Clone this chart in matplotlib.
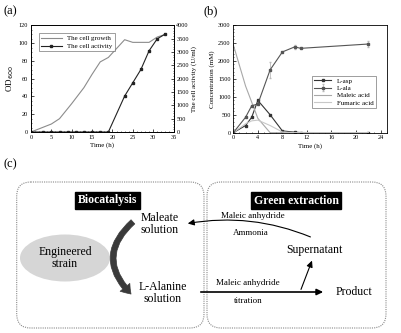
import numpy as np
import matplotlib.pyplot as plt
from matplotlib.patches import FancyBboxPatch, Ellipse, FancyArrowPatch

plt.rcParams['font.family'] = ['Liberation Serif', 'DejaVu Serif']

# (a) cell growth and activity
t_growth = [0, 5, 7, 10, 13, 15, 17, 19, 23, 25, 27, 29, 31, 33]
od600 = [0, 9, 15, 32, 50, 65, 79, 84, 104, 101, 101, 101, 107, 110]
t_act = [0, 3, 5, 7, 9, 11, 13, 15, 17, 19, 23, 25, 27, 29, 31, 33]
activity = [0, 0, 0, 0, 0, 0, 0, 0, 0, 0, 1350, 1850, 2350, 3050, 3500, 3680]

# (b) concentrations
t_b = [0, 2, 3, 4, 6, 8, 10, 11, 22]
l_asp = [0, 200, 430, 900, 500, 50, 15, 5, 0]
l_ala = [0, 430, 750, 800, 1750, 2250, 2390, 2350, 2470]
l_ala_err = [0, 0, 0, 0, 230, 0, 60, 0, 80]
maleic = [2450, 1300, 850, 400, 0, 0, 0, 0, 0]
fumaric = [0, 250, 330, 350, 200, 20, 0, 0, 0]

W, H = 401, 333
fig = plt.figure(figsize=(W / 100, H / 100), dpi=100)


def px_axes(left, top, right, bottom):
    return fig.add_axes([left / W, 1 - bottom / H, (right - left) / W, (bottom - top) / H])


def style_ticks(ax):
    ax.tick_params(direction='in', labelsize=4.5, length=2, width=0.5, pad=2)
    ax.tick_params(which='minor', direction='in', length=1, width=0.4)
    for s in ax.spines.values():
        s.set_linewidth(0.6)


# ---- panel a ----
ax1 = px_axes(31, 25.5, 173.5, 132)
ax1.plot(t_growth, od600, color='#8c8c8c', lw=0.8, label='The cell growth')
ax1.set_xlim(0, 35)
ax1.set_ylim(0, 120)
ax1.set_xticks(np.arange(0, 36, 5))
ax1.set_yticks(np.arange(0, 121, 20))
ax1.minorticks_on()
ax1.set_xlabel('Time (h)', fontsize=5, labelpad=2)
ax1.set_ylabel('OD$_{600}$', fontsize=6.5, labelpad=2)
style_ticks(ax1)
ax2 = ax1.twinx()
ax2.plot(t_act, activity, color='#222222', lw=0.8, marker='s', ms=1.6, label='The cell activity')
ax2.set_ylim(0, 4000)
ax2.set_yticks(np.arange(0, 4001, 500))
ax2.minorticks_on()
ax2.set_ylabel('The cell activity (U/ml)', fontsize=5, labelpad=2)
style_ticks(ax2)
h1, l1 = ax1.get_legend_handles_labels()
h2, l2 = ax2.get_legend_handles_labels()
leg = ax1.legend(h1 + h2, l1 + l2, loc='upper left', bbox_to_anchor=(0.03, 0.96),
                 fontsize=5, frameon=True, fancybox=False, handlelength=3, borderpad=0.3,
                 labelspacing=0.3)
leg.get_frame().set_linewidth(0.5)
leg.get_frame().set_edgecolor('#555555')

# ---- panel b ----
ax3 = px_axes(233.3, 25, 386.7, 132.7)
p_asp, = ax3.plot(t_b, l_asp, color='#333333', lw=0.8, marker='s', ms=1.6, label='L-asp')
p_ala = ax3.errorbar(t_b, l_ala, yerr=l_ala_err, color='#555555', ecolor='#bbbbbb', elinewidth=0.6,
                     capsize=1, lw=0.8, marker='s', ms=1.6, label='L-ala')
p_mal, = ax3.plot(t_b, maleic, color='#a8a8a8', lw=0.8, label='Maleic acid')
p_fum, = ax3.plot(t_b, fumaric, color='#c8c8c8', lw=0.8, label='Fumaric acid')
ax3.set_xlim(0, 25)
ax3.set_ylim(0, 3000)
ax3.set_xticks(np.arange(0, 25, 4))
ax3.set_yticks(np.arange(0, 3001, 500))
ax3.minorticks_on()
ax3.set_xlabel('Time (h)', fontsize=5, labelpad=2)
ax3.set_ylabel('Concentration (mM)', fontsize=5, labelpad=2)
style_ticks(ax3)
leg = ax3.legend([p_asp, p_ala, p_mal, p_fum], ['L-asp', 'L-ala', 'Maleic acid', 'Fumaric acid'],
                 loc='upper left', bbox_to_anchor=(0.49, 0.56), fontsize=5, frameon=True,
                 fancybox=False, handlelength=2.5, borderpad=0.3, labelspacing=0.2)
leg.get_frame().set_linewidth(0.5)
leg.get_frame().set_edgecolor('#555555')

# ---- panel c (diagram) ----
axc = fig.add_axes([0, 0, 1, 1], zorder=-1)
axc.set_xlim(0, W)
axc.set_ylim(H, 0)
axc.axis('off')

for x0, x1 in [(16.7, 204), (207, 386)]:
    axc.add_patch(FancyBboxPatch((x0, 182), x1 - x0, 146,
                                 boxstyle='round,pad=0,rounding_size=14',
                                 fc='none', ec='#8a8a8a', lw=0.8, ls=(0, (1, 1))))
axc.text(107.5, 200.5, 'Biocatalysis', color='white', fontsize=8.5, fontweight='bold',
         ha='center', va='center',
         bbox=dict(boxstyle='square,pad=0.25', fc='black', ec='black'))
axc.text(296, 200.5, 'Green extraction', color='white', fontsize=8.5, fontweight='bold',
         ha='center', va='center',
         bbox=dict(boxstyle='square,pad=0.25', fc='black', ec='black'))

axc.add_patch(Ellipse((65, 258), 90, 47, fc='#d6d6d6', ec='none'))
axc.text(65, 258, 'Engineered\nstrain', fontsize=8.5, ha='center', va='center', linespacing=1.1)
axc.text(160, 224, 'Maleate\nsolution', fontsize=8.5, ha='center', va='center', linespacing=1.1)
axc.text(163, 293, 'L-Alanine\nsolution', fontsize=8.5, ha='center', va='center', linespacing=1.1)
axc.text(314, 250, 'Supernatant', fontsize=8.5, ha='center', va='center')
axc.text(354, 292, 'Product', fontsize=8.5, ha='center', va='center')
axc.text(253, 216, 'Maleic anhydride', fontsize=6.5, ha='center', va='center')
axc.text(251, 233, 'Ammonia', fontsize=6.5, ha='center', va='center')
axc.text(248, 283, 'Maleic anhydride', fontsize=6.5, ha='center', va='center')
axc.text(248, 301, 'titration', fontsize=6.5, ha='center', va='center')

axc.add_patch(FancyArrowPatch((135, 220), (133, 296), connectionstyle='arc3,rad=0.55',
                              arrowstyle='simple,head_width=1.8,head_length=1.3,tail_width=0.8',
                              mutation_scale=5, fc='#3a3a3a', ec='#3a3a3a', lw=0.5))
axc.add_patch(FancyArrowPatch((313, 238), (185, 224), connectionstyle='arc3,rad=0.15',
                              arrowstyle='-|>,head_width=1.2,head_length=2.5',
                              mutation_scale=1.5, color='black', lw=0.8))
axc.add_patch(FancyArrowPatch((198, 292), (326, 292), arrowstyle='-|>,head_width=1.2,head_length=2.5',
                              mutation_scale=1.5, color='black', lw=1.2))
axc.add_patch(FancyArrowPatch((300, 292), (313, 258), arrowstyle='-|>,head_width=1.2,head_length=2.5',
                              mutation_scale=1.5, color='black', lw=0.8))

fig.text(3 / W, 1 - 11 / H, '(a)', fontsize=9, va='center', ha='left')
fig.text(203 / W, 1 - 11 / H, '(b)', fontsize=9, va='center', ha='left')
fig.text(3 / W, 1 - 164 / H, '(c)', fontsize=9, va='center', ha='left')

fig.savefig('out.png', dpi=100)
